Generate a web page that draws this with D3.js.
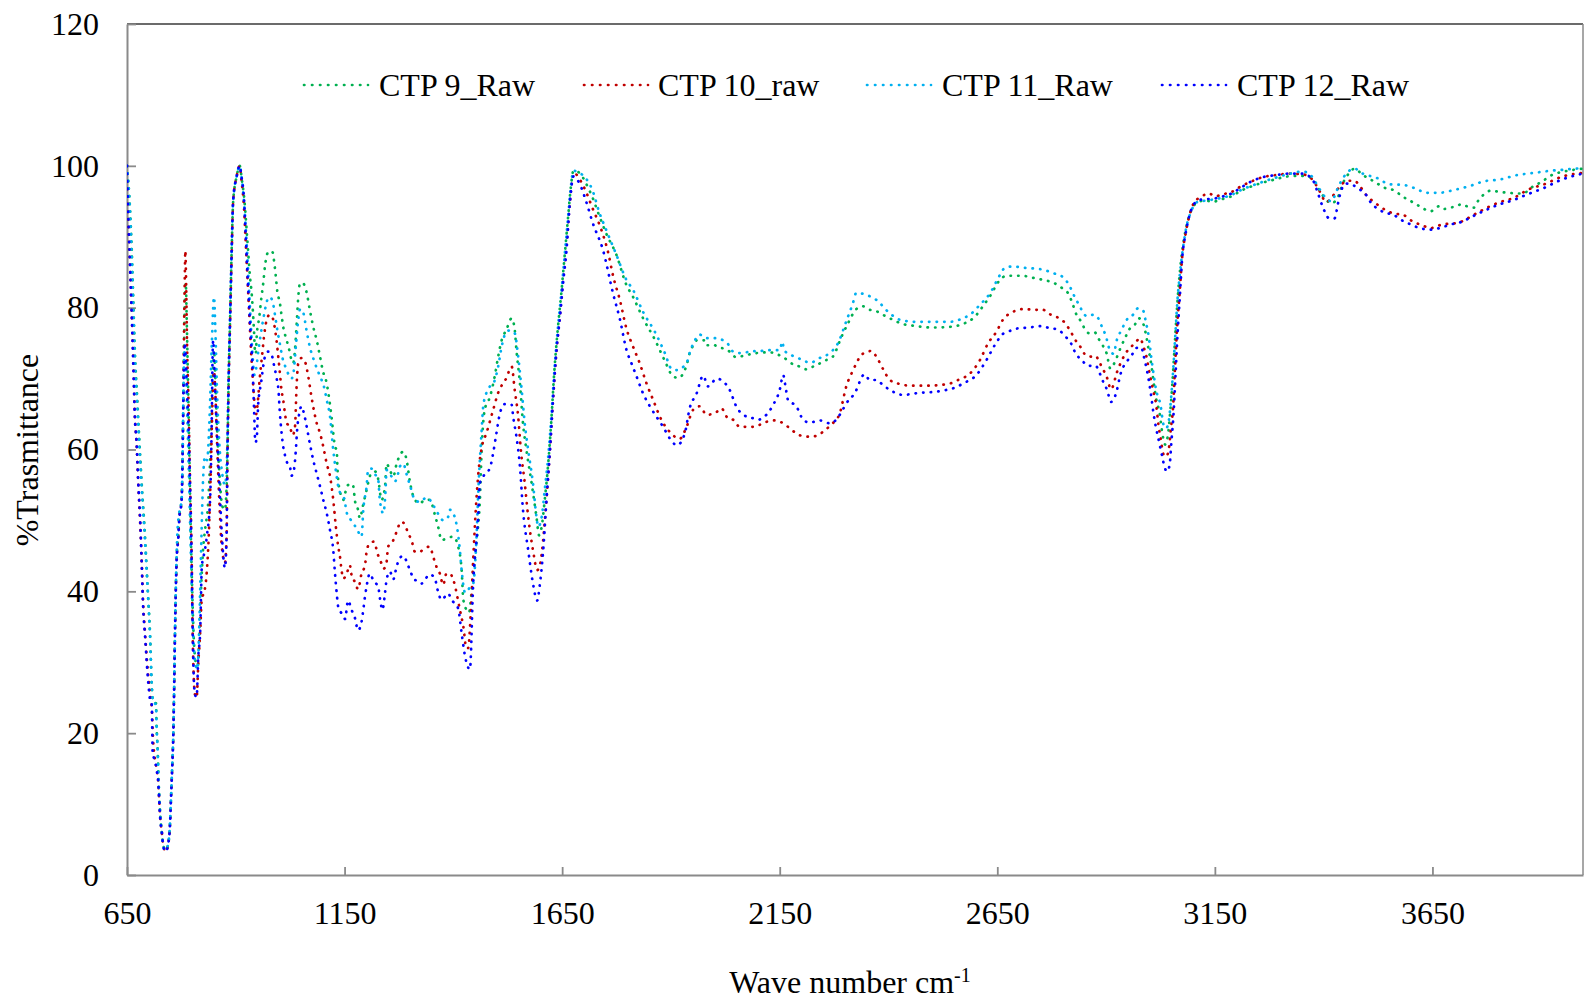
<!DOCTYPE html>
<html>
<head>
<meta charset="utf-8">
<script src="https://cdn.jsdelivr.net/npm/d3@7"></script>
<style>
  html, body { margin: 0; padding: 0; background: #fff; }
  svg text { font-family: "Liberation Serif", "Times New Roman", serif; fill: #000; }
</style>
</head>
<body>
<svg id="chart" width="1584" height="1001"></svg>
<script>
// FTIR spectra: wave number (cm-1) vs % transmittance
const seriesNames = ["CTP 9_Raw", "CTP 10_raw", "CTP 11_Raw", "CTP 12_Raw"];
const seriesColors = ["#00B050", "#C00000", "#00B0F0", "#0000FF"];
const xTicks = [650, 1150, 1650, 2150, 2650, 3150, 3650];
const yTicks = [0, 20, 40, 60, 80, 100, 120];

const ctp9 = [[650,100],[657,93.8],[661,88],[664.5,81],[668,74],[673.7,67],[678,61.8],[683.8,55.2],[691,48.2],[695,43.5],[699,38.8],[703,34],[706.7,27],[710,24.4],[716.6,24.2],[718,21],[720.5,17.6],[722.8,13],[725,10],[727,8],[730,6],[734,4],[739,3.5],[745,4.5],[749,7.5],[751,10.6],[754,15.5],[756.5,20],[758,25],[760,33],[764,44.5],[768,48],[770,50.5],[775.6,53],[778,60],[779.5,67],[781,74],[783,81],[785,83.5],[787,79],[790,70],[793,60],[796,50],[799,42],[803,34],[808,30],[812,29.5],[816,33],[820,40],[825,46],[830,49],[836,52],[842,60],[847,70],[850,74],[853,70],[857,63],[863,56],[869,52],[875,51.5],[879,55],[881,60],[883,68],[887,78.7],[890.5,88],[894,95],[902,98.5],[909,100],[914,98],[920,95],[926,90],[932.6,84.4],[936.5,82],[941.7,76.9],[944,74],[946,73.5],[948,75.9],[954,78.7],[959,81.5],[963,83.4],[967,85.8],[973,87.7],[978.5,88],[984.7,87.8],[987.7,86.7],[992,84.4],[995,82.5],[1001.5,80.6],[1005,79],[1009,77.3],[1017,75.4],[1023,74],[1028,72.6],[1032,72.2],[1036,74],[1040,77.8],[1043.6,81.5],[1047.4,83.4],[1053,83.5],[1059,83],[1064,81.8],[1069,80.1],[1078,77.3],[1086,75.4],[1093.6,73.1],[1099.6,71.2],[1109,69.3],[1115,67],[1120,64.6],[1124,62.3],[1128,60.4],[1132,59.9],[1133.5,57.6],[1135.4,55.7],[1143,53.3],[1147,52.9],[1152,54],[1158,55],[1165,55.2],[1170,54.8],[1174,52.7],[1181,51.5],[1185,50.3],[1192,52],[1200.6,54.3],[1210,56.5],[1220,56.9],[1227,55.9],[1235,52.9],[1243,54.8],[1246.5,58],[1254,57.1],[1262,56.2],[1269.6,58],[1285,59.7],[1292.6,58.5],[1300,55.5],[1311.6,52.9],[1323,52.4],[1334.6,52.9],[1346,52.9],[1357.5,50.8],[1365,49.1],[1373,47.2],[1385,47.5],[1400,47.7],[1411,46.3],[1419,43],[1423,38.8],[1430,37.4],[1436,37],[1442,40],[1450,45],[1455,48],[1461,52.9],[1465,59.9],[1472,65.6],[1484,67.4],[1495,70.3],[1503,73.1],[1511,75.4],[1522,76.9],[1534,78.5],[1541,76.9],[1545,74],[1553,69.3],[1560,63.7],[1568,59.9],[1580,55.2],[1591,50.5],[1597,47.9],[1603,49.1],[1610,52.9],[1618,58],[1625,64],[1632,71],[1640,77],[1648,82],[1656,87.5],[1664,93],[1670,97],[1676,99.3],[1690,99],[1705,97.5],[1720,95.5],[1735,93],[1751,90.5],[1775,87.4],[1797,83.3],[1813,81.5],[1836,78.5],[1863,75.5],[1886,72.5],[1905,70.3],[1917,70.1],[1936,71.9],[1943,73.6],[1955,75],[1959,75.4],[1978,75.4],[1982,74.7],[2001,74.7],[2005,74.5],[2028,74.1],[2035,73.8],[2050,73],[2066,73.2],[2097,73.6],[2127,73.7],[2158,73],[2184,71.9],[2196,71.7],[2212,71.3],[2227,71.7],[2257,72.6],[2272,73.1],[2292,75.9],[2307,77.8],[2326,79.8],[2341,80.2],[2357,79.7],[2372,79.5],[2387,79],[2403,78.5],[2433,77.7],[2464,77.4],[2502,77.2],[2541,77.3],[2571,77.7],[2598,78.7],[2617,80.2],[2633,81.6],[2656,83.9],[2671,84.5],[2705,84.5],[2740,84.1],[2770,83.7],[2786,83.3],[2800,82.7],[2813,82],[2821,80.9],[2832,79],[2843,78],[2851,77],[2861,76.4],[2874,76.5],[2884,75.5],[2893,74.6],[2901,73.6],[2910,71.4],[2922,72.6],[2931,74],[2945,75.9],[2954,77],[2966,77.6],[2975,78.5],[2985,77.8],[2992,76.1],[2998,74],[3004,71.9],[3009,69.6],[3015,67.2],[3023,65.1],[3030,62],[3036,60.7],[3042,62],[3047,65],[3052,69],[3057,74],[3062,79],[3068,84],[3075,88],[3083,91],[3092,93.1],[3103,94.5],[3115,95],[3130,95.1],[3145,94.9],[3160,95.2],[3184,95.6],[3214,96.6],[3253,97.5],[3283,98],[3317,98.5],[3345,98.6],[3364,98.5],[3379,97.8],[3390,96.6],[3406,95.2],[3417,94.7],[3433,95.6],[3444,97.5],[3455,98.7],[3471,99.6],[3490,98.7],[3510,98],[3529,97.3],[3544,96.8],[3560,96.6],[3583,95.6],[3598,95.1],[3615,94.5],[3631,93.9],[3646,93.6],[3665,94.3],[3675,93.9],[3690,94.1],[3706,94.3],[3717,94.6],[3729,94.3],[3745,94.1],[3752,94.8],[3767,95.9],[3784,96.5],[3807,96.3],[3826,96.2],[3845,96.1],[3860,96.1],[3872,96.7],[3887,97.3],[3903,97.8],[3918,98.5],[3933,98.9],[3960,99.3],[3996,99.6]];

const ctp10 = [[650,100],[653,93],[657,86],[661,79],[665,72],[668,65],[672,61],[676,55],[680,50],[684,44],[687,38.5],[691,34.5],[699,28],[703,25.5],[707,23.5],[710,19],[714,16.5],[718,15],[722,13],[724,10.6],[726,8.5],[730,6],[734,4],[739,3.3],[745,4.5],[749,7.3],[751,10.6],[754,15.3],[756.5,20],[758,25],[760,33],[764,44],[768,47.7],[770,50],[775.6,53],[778,60],[779.5,67],[781,76],[783,85],[784,88],[786,83],[788,75],[792,65],[795,55],[797,50],[799,43],[801,34],[806,25.5],[810,25],[814,30],[818,34],[822,39],[828,40],[833,42.5],[838,48],[843,58],[847,68],[850,71],[853,68],[857,61],[862,53],[867,47],[875,44],[879,48],[880.5,57],[883,67],[887,78],[890.5,87],[894,95],[902,98.5],[909,100],[913,98],[919,94],[923,89],[927,84],[931,79],[935,74],[939,70],[943,66.5],[947,65],[951,67],[955,70],[960,73],[966,76.5],[972,78.5],[978,79],[985,78.5],[990,77],[994,75.2],[997.6,73.1],[1001.5,70.7],[1005,68.4],[1009,67],[1013,65.1],[1017,63.7],[1024,63.3],[1030.6,62],[1036,63.2],[1040,69.3],[1043.6,72.2],[1051,72.9],[1059,72.4],[1066.5,70.3],[1074,67.4],[1078,66],[1086,63.7],[1093.6,62.3],[1101,60.4],[1109,58],[1116.6,56.2],[1124,52.9],[1130,49.1],[1135.4,46.3],[1139,45.1],[1143,43],[1147,41.8],[1155,42.5],[1162,43.7],[1166,42.3],[1174,41.3],[1181,40.3],[1189,42.5],[1197,43.7],[1200.6,45.6],[1208,46.8],[1217,47],[1227,45.1],[1235,43.9],[1240,43.2],[1246.5,44.1],[1250,46.3],[1258,46.8],[1265.6,47.7],[1272,48.9],[1281,49.8],[1288.6,49.4],[1296,48.2],[1304,47.2],[1311.6,45.6],[1323,45.6],[1334.6,46.1],[1346,46.3],[1353.6,44.9],[1361,43.5],[1369,42.5],[1376.6,40.9],[1384,42.5],[1392,42.5],[1400,41.6],[1415,37.4],[1423,35],[1430,32],[1434,32],[1440,37],[1446,45],[1452,52],[1458,57],[1466,60.5],[1476,62.3],[1491.5,65.6],[1503,68],[1522,70.1],[1534,71.7],[1541,68.4],[1549,64.6],[1555,60],[1564,55.3],[1572,50.5],[1583,45.8],[1593,43],[1600,44],[1606,47],[1614,53],[1622,60],[1629,67],[1637,74],[1645,79],[1652,84],[1660,89],[1668,95],[1676,99],[1700,97],[1720,94],[1740,91],[1756,87.7],[1767,84.5],[1783,81],[1798,77],[1813,74.5],[1828,72.2],[1844,69.3],[1859,67],[1878,64.2],[1897,62.5],[1909,61.8],[1920,61.5],[1936,63.2],[1951,65.6],[1966,66.1],[1982,64.9],[2001,65.1],[2016,65.8],[2031,64.4],[2043,64.2],[2058,63.2],[2089,63.2],[2119.5,63.9],[2135,64.1],[2158,63.7],[2173,63],[2196,62],[2219,61.8],[2238,62],[2253,62.7],[2272,63.7],[2288,65.1],[2303,68.9],[2318,71.1],[2341,73.5],[2361,73.9],[2372,73.1],[2387,71.4],[2403,69.8],[2422,69.3],[2453,69],[2487,69],[2518,69.1],[2541,69.3],[2560,69.8],[2587,70.7],[2610,72.6],[2629,75],[2648,76.6],[2663,78.3],[2686,79.4],[2709,79.8],[2743,79.7],[2755,79.7],[2770,79.1],[2786,78.7],[2797,78.3],[2805,77.9],[2815,77],[2832,75.2],[2843,74.3],[2853,73.3],[2864,73.1],[2876,73.2],[2884,72.4],[2892,71.4],[2899,70.6],[2905,69.6],[2910,68.5],[2917,69.1],[2922,70.3],[2935,72.4],[2950,74],[2958,74.5],[2969,75.2],[2978,75.7],[2986,74.5],[2992,73.3],[3000,70.7],[3008,68.4],[3015,66.3],[3021,63.2],[3026,61.3],[3032,59.3],[3038,59],[3044,60],[3049,63],[3054,66],[3058,71],[3063,77],[3069,82],[3075,87.2],[3083,90.5],[3092,93.1],[3103,94.9],[3115,95.5],[3130,96],[3137,96.1],[3150,95.7],[3169,96],[3188,96.3],[3207,97],[3234,97.8],[3260,98.4],[3291,98.7],[3322,98.9],[3352,98.8],[3375,98],[3390,96.5],[3406,94.9],[3418,95.5],[3433,96.8],[3455,97.9],[3470,97.9],[3485,97],[3495,96.1],[3522,94.6],[3560,93.3],[3583,93.1],[3598,92.4],[3631,91.5],[3644,91.2],[3671,91.7],[3711,92],[3728,92.5],[3760,93.6],[3801,94.8],[3837.5,95.5],[3872,96.7],[3907,97.4],[3949,98.5],[3996,99]];

const ctp11 = [[650,100],[657,93.5],[661,87],[664.5,80],[668,73],[673.7,66],[678,61],[683.8,54.5],[691,47.5],[695,43],[699,38.5],[703,33.5],[706.7,27],[710,24.4],[716.6,24],[718,21],[720.5,17.6],[722.8,13],[725,10],[727,8],[730,6],[734,4],[739,3.5],[745,4.5],[749,7.5],[751,10.6],[754,15.5],[756.5,20],[758,25],[760,33],[764,45],[766,48.5],[770,51],[775.6,53],[778,60],[779.5,67],[781,72],[783,74],[785,72],[788,66],[792,57],[796,47],[799,40],[803,33],[808,29.5],[812,29],[816,35],[820,45],[825,56],[829,59],[834,58.5],[840,65],[845,75],[850,81.5],[853,77],[857,68],[862,61],[868,57],[875,55],[879,57.6],[881,62],[883,69],[887,79],[890.5,88],[894,95],[902,98.5],[909,100],[914,98],[920,94],[926,88],[931,82],[936,76],[940,72],[943,70.5],[947,71.5],[952,74],[958,76.5],[965,79],[972,81],[978,81.5],[984,81],[990,79],[995,77],[1001,75],[1007,73],[1015,71.5],[1022,70.5],[1028,70],[1033,71],[1038,74.5],[1043,78],[1048,79.8],[1055,79.3],[1062,77],[1070,74.5],[1080,72.5],[1093.6,70.3],[1102,69],[1109,67],[1116.6,64.6],[1124,59.9],[1130,57],[1135.4,54.8],[1143,53.5],[1151,52.9],[1153,51.5],[1165,50],[1177.6,48.9],[1189,47.7],[1193,51.5],[1200.6,54.8],[1204,57.1],[1212,57.3],[1220,56.5],[1227,55.9],[1231,52.9],[1239,51],[1244,54],[1246.5,57.1],[1258,56.2],[1265.6,55.5],[1273,56.6],[1277,57.6],[1285,58],[1292.6,56.5],[1300,55],[1311.6,52.9],[1323,52.6],[1334.6,53.1],[1342,53.2],[1350,52.5],[1360,51.5],[1369,50.5],[1377,50],[1388,50.5],[1392,51.5],[1403,50.5],[1415,45.8],[1419,43],[1427,39.8],[1434,40.2],[1440,40.8],[1445.6,41.1],[1452,46],[1458,55],[1465,62.7],[1468.5,66],[1476,68],[1484,68.9],[1491,69.2],[1503,71.7],[1511,74.5],[1522,76.6],[1530,76.8],[1541,76.4],[1549,73.1],[1557,68.4],[1564,63.7],[1572,59.9],[1583,55.2],[1591,50.5],[1595,49.1],[1603,50.5],[1610,54.3],[1618,59],[1625,64.5],[1632,71],[1640,77],[1648,82],[1656,87.5],[1664,93],[1670,97],[1676,99.3],[1690,99],[1705,98.2],[1720,96.5],[1735,93.5],[1751,91],[1775,87.4],[1797,84],[1813,82.5],[1836,79.4],[1863,76.6],[1886,73.6],[1901,71.4],[1913,71.2],[1936,72.2],[1943,73.6],[1955,75.4],[1966,76.2],[1982,75.7],[2001,75.7],[2028,75.1],[2043,73.8],[2058,73.6],[2073,73.7],[2089,73.9],[2097,73.8],[2119.5,74],[2150,74],[2156,75.2],[2160,74],[2184,73.1],[2204,72.6],[2219,72.2],[2242,72.9],[2265,73.6],[2284,75],[2303,78.1],[2318,80.6],[2326,82.1],[2349,81.8],[2372,81.1],[2403,79.2],[2426,78.3],[2464,78],[2502,78],[2541,78],[2571,78.5],[2587,79],[2610,80.4],[2633,82],[2656,84.6],[2667,85.6],[2682,85.8],[2717,85.6],[2751,85.4],[2782,84.8],[2801,84.3],[2813,83.4],[2828,81.5],[2836,80.6],[2856,78.8],[2871,79],[2884,78.3],[2891,77.2],[2899,76.1],[2908,74.1],[2917,73.5],[2925,75.5],[2935,76.8],[2950,78.5],[2962,79],[2973,79.9],[2985,79.6],[2992,77.8],[2998,75.9],[3004,72.9],[3009,70.7],[3015,68.4],[3025,66.3],[3032,63.5],[3038,63],[3044,64],[3049,67],[3054,71],[3059,76],[3064,81],[3070,85],[3077,88.5],[3085,91.5],[3095,93.5],[3105,94.7],[3115,95],[3130,95.1],[3150,95.3],[3184,95.8],[3214,96.7],[3253,97.6],[3283,98.2],[3317,98.8],[3352,99.2],[3370,98.7],[3385,97.3],[3398,96],[3406,95.4],[3418,95],[3430,96.5],[3440,97.8],[3452,98.9],[3471,99.6],[3490,98.9],[3522,98.3],[3552,97.4],[3583,97.3],[3615,96.7],[3634,96.2],[3665,96.2],[3700,96.6],[3738,97.2],[3767,97.8],[3807,98.1],[3845,98.7],[3883,99],[3921,99.3],[3960,99.5],[3996,99.7]];

const ctp12 = [[650,100],[653,92.8],[657,85.8],[661,78.7],[664.5,71.7],[668,64.6],[672,61],[676,55.2],[680,50.5],[684,43.5],[687,37.8],[691,34.1],[699,27],[703,24.7],[707,24],[709,17],[714,16.2],[718,14.8],[722,12.9],[724,10.6],[726,8.2],[730,6.1],[733.5,4],[739,3.3],[745,4.5],[749,7.3],[751,10.6],[754,15.3],[756.5,20],[758,25],[760,33],[764,44.4],[768,47.7],[770,50.1],[775.6,52.9],[778,59.9],[779.5,67],[781,72],[783,75],[785,73],[788,68],[792,62],[795,55],[797,50],[799,43],[801,34],[806,25.5],[810,25.1],[814,31],[818,34],[822,43.5],[829,45.8],[834,48],[841,53],[844.5,63],[847,74],[848,75.4],[852,69],[857,62],[864,53],[868,48],[875,43.3],[879,48.2],[880.5,57.6],[883,68],[887,78.7],[890.5,88],[894,95.2],[902,98.5],[909,100],[913,98.5],[919,95.2],[922.6,90.5],[926,85.8],[930,81],[934,76.4],[938,72.2],[940,69.3],[942,65.6],[945,61],[948,61.5],[951.6,66.5],[955.5,68.4],[959,69.8],[963,71.7],[967,73.1],[974.6,73.8],[982,73.5],[986,72.4],[994,70],[998,68.4],[1001.5,65],[1005,62.5],[1009,60.4],[1013,59.2],[1017,58.3],[1024.5,57.6],[1028,56.3],[1033.6,57.1],[1038,59.9],[1041,62.8],[1046,65.1],[1051,66.1],[1056.6,65.1],[1063,63.2],[1070,60.9],[1078,58.5],[1086,56.6],[1093.6,54.8],[1101,52.9],[1109,51],[1116.6,48.6],[1124,45.8],[1128,42.5],[1132,39.7],[1135.4,37.8],[1143,36.9],[1151,36.1],[1158,38.7],[1166,37.4],[1174,36.2],[1181,34.5],[1189,35.7],[1193,37.4],[1197,39.3],[1200.6,40.7],[1208,42.5],[1217,41.4],[1227,40.7],[1233,38.3],[1237,37.4],[1243,39.8],[1246.5,41.6],[1254,42.8],[1262,41.7],[1269.6,43.5],[1277,44.7],[1285,45],[1292.6,44.2],[1300,43],[1311.6,41.6],[1319,41.5],[1327,41.1],[1334,41.6],[1346,42.4],[1357.5,41.8],[1365,39.9],[1373,38.8],[1388,39.7],[1396,38.8],[1411,37.6],[1419,34.1],[1427,30.8],[1438,29],[1445.6,41.1],[1457,50.5],[1461,55.3],[1468.5,56.2],[1484,57.4],[1491.5,59.5],[1499,62.3],[1507,65.1],[1518,66.4],[1534,66.3],[1537.5,64.6],[1545,61.8],[1553,57.6],[1560,51.5],[1572,45.8],[1583,41.1],[1592.6,38.7],[1599,41.1],[1606.5,45.8],[1614,52.9],[1622,59.9],[1629,67],[1637,74],[1645,78.7],[1652,83.4],[1660,88.1],[1668,95],[1676,98.5],[1690,97.5],[1705,95],[1720,92],[1744,88.1],[1767,82],[1783,78.3],[1798,74],[1809,72.2],[1821,70.3],[1836,67.9],[1851.5,66.1],[1867,64.6],[1882,63.2],[1897,61.6],[1914,60.6],[1932,62.3],[1943,65.8],[1959,67.9],[1974,70.4],[1985.5,68.9],[1993,69.3],[2005,70],[2020,69.6],[2035,68.4],[2050,66.1],[2066,64.9],[2089,64.4],[2100,64.2],[2119.5,64.9],[2135,66.3],[2150,68.4],[2158,70.5],[2163,69],[2169,67],[2188,66.1],[2204,64.2],[2219,63.8],[2242,64.1],[2265,63.7],[2280,64.2],[2292,65.3],[2303,66.5],[2322,67.9],[2345,70.6],[2357,69.8],[2372,69.8],[2387,69.1],[2403,68.4],[2433,67.7],[2472,68],[2502,68.1],[2533,68.4],[2556,68.8],[2571,69.3],[2602,70.5],[2625,72.6],[2644,74.7],[2663,76.3],[2675,76.6],[2690,77],[2721,77.2],[2754,77.4],[2770,77.1],[2784,77],[2800,76.4],[2810,75.7],[2820,74.9],[2828,73.8],[2837,73],[2847,72.4],[2858,71.8],[2876,71.8],[2885,70.8],[2893,69.6],[2899,68.9],[2905,67.8],[2911,66.7],[2920,67.4],[2925,68.4],[2933,70.6],[2940,71.7],[2950,72.6],[2961,73.5],[2969,74.3],[2981,74.4],[2986,73.3],[2992,71.7],[2998,69.8],[3004,67.4],[3009,65.1],[3015,63],[3021,61.3],[3029,59],[3034,57.6],[3040,56.9],[3046,57.8],[3050,61],[3055,65],[3060,71],[3064,76],[3069,81],[3075,87],[3083,90.5],[3092,93.1],[3103,94.7],[3115,95.2],[3130,95.3],[3149.5,95.4],[3169,95.7],[3188,96.1],[3207,96.8],[3234,97.8],[3260,98.4],[3291,98.7],[3322,98.9],[3352,98.9],[3375,98],[3387,96.1],[3398,94.2],[3413,92.6],[3425,92.6],[3433,94.7],[3440.7,96.6],[3452,97.5],[3467,97.3],[3479,96.8],[3495,96.1],[3510,94.7],[3525,93.9],[3541,93.4],[3560,93.1],[3583,92.2],[3598,91.8],[3617,91.3],[3644,91],[3671,91.3],[3690,91.7],[3717,92.1],[3740,92.8],[3767,93.6],[3801,94.5],[3837.5,95.2],[3865,95.9],[3907,96.9],[3945,98],[3975,98.6],[3996,98.9]];

const seriesData = [ctp9, ctp10, ctp11, ctp12];

// ---- layout ----
const plot = { left: 127, right: 1583, top: 24, bottom: 875 };
const fontSize = 32;
const svg = d3.select("#chart");

const x = d3.scaleLinear().domain([650, 3996]).range([plot.left, plot.right]);
const y = d3.scaleLinear().domain([0, 120]).range([plot.bottom, plot.top]);

// frame: top and right border
svg.append("line")
  .attr("x1", plot.left).attr("x2", plot.right)
  .attr("y1", plot.top).attr("y2", plot.top)
  .attr("stroke", "#3a3a3a").attr("stroke-width", 1.5);
svg.append("line")
  .attr("x1", plot.right).attr("x2", plot.right)
  .attr("y1", plot.top).attr("y2", plot.bottom)
  .attr("stroke", "#8a8a8a").attr("stroke-width", 1.5);

// axes with inward ticks
const xAxis = d3.axisBottom(x).tickValues(xTicks).tickSizeInner(-8).tickSizeOuter(0).tickPadding(26).tickFormat(d3.format("d"));
const yAxis = d3.axisLeft(y).tickValues(yTicks).tickSizeInner(-9).tickSizeOuter(0).tickPadding(28).tickFormat(d3.format("d"));

const gx = svg.append("g").attr("transform", `translate(0,${plot.bottom})`).call(xAxis);
const gy = svg.append("g").attr("transform", `translate(${plot.left},0)`).call(yAxis);

[gx, gy].forEach(g => {
  g.select(".domain").attr("stroke", "#8a8a8a").attr("stroke-width", 2);
  g.selectAll(".tick line").attr("stroke", "#8a8a8a").attr("stroke-width", 1.8);
  g.selectAll(".tick text")
    .attr("font-family", "'Liberation Serif', 'Times New Roman', serif")
    .attr("font-size", fontSize).attr("fill", "#000");
});
gx.selectAll(".tick text").attr("dy", "0.71em");

// axis titles
const xTitle = svg.append("text")
  .attr("x", 850).attr("y", 993)
  .attr("text-anchor", "middle")
  .attr("font-size", fontSize);
xTitle.append("tspan").text("Wave number cm");
xTitle.append("tspan").attr("dy", -11).attr("font-size", 20).text("-1");

svg.append("text")
  .attr("transform", "translate(38,450) rotate(-90)")
  .attr("text-anchor", "middle")
  .attr("font-size", fontSize)
  .text("%Trasmittance");

// spectra
const line = d3.line()
  .x(d => x(d[0]))
  .y(d => y(d[1]))
  .curve(d3.curveMonotoneX);

svg.append("defs").append("clipPath").attr("id", "plotclip")
  .append("rect")
  .attr("x", plot.left).attr("y", plot.top - 4)
  .attr("width", plot.right - plot.left + 2).attr("height", plot.bottom - plot.top + 4);

const dots = "0.4 7.2";

svg.append("g").attr("clip-path", "url(#plotclip)")
  .selectAll("path")
  .data(seriesData)
  .join("path")
  .attr("d", line)
  .attr("fill", "none")
  .attr("stroke", (d, i) => seriesColors[i])
  .attr("stroke-width", 2.7)
  .attr("stroke-linecap", "round")
  .attr("stroke-dasharray", dots);

// legend
const legendItems = [
  { lx: 304, tx: 379 },
  { lx: 584, tx: 658 },
  { lx: 867, tx: 942 },
  { lx: 1162, tx: 1237 }
];
const legend = svg.append("g");
seriesNames.forEach((name, i) => {
  const it = legendItems[i];
  legend.append("line")
    .attr("x1", it.lx).attr("x2", it.lx + 64)
    .attr("y1", 85).attr("y2", 85)
    .attr("stroke", seriesColors[i])
    .attr("stroke-width", 2.7)
    .attr("stroke-linecap", "round")
    .attr("stroke-dasharray", "0.4 7.6");
  legend.append("text")
    .attr("x", it.tx).attr("y", 96)
    .attr("font-size", fontSize)
    .text(name);
});
</script>
</body>
</html>
